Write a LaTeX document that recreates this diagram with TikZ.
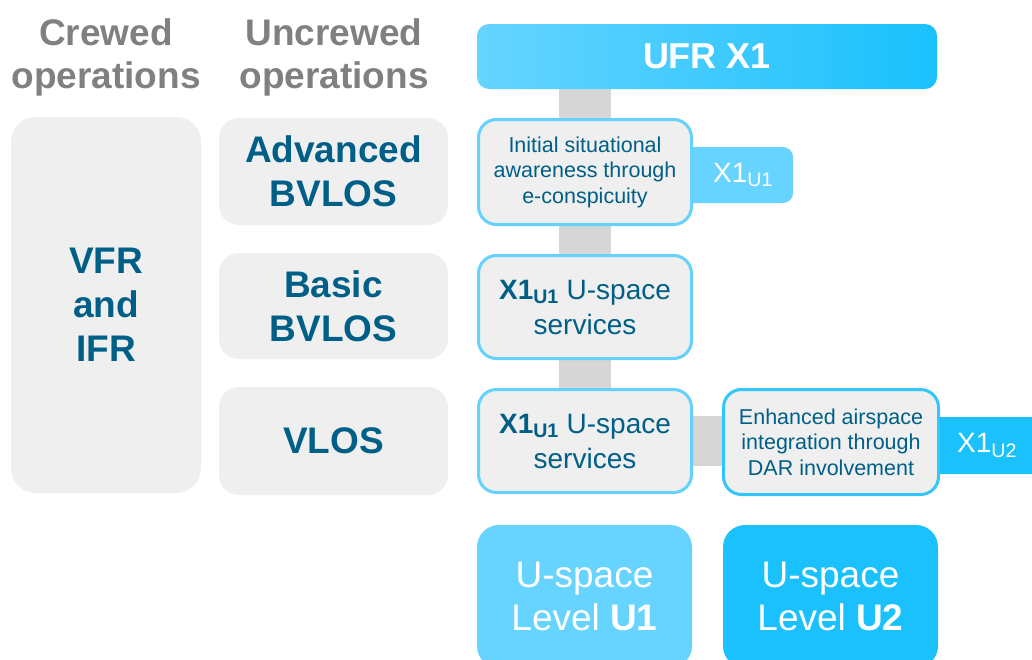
\documentclass[tikz,border=0pt]{standalone}
\usepackage{fontspec}
\setmainfont{Liberation Sans}

\definecolor{navy}{RGB}{0,95,135}
\definecolor{headgrey}{RGB}{128,128,128}
\definecolor{boxgrey}{RGB}{239,239,239}
\definecolor{bargrey}{RGB}{214,214,214}
\definecolor{skyL}{RGB}{102,212,255}
\definecolor{skyD}{RGB}{26,193,252}
\definecolor{rimL}{RGB}{100,210,252}
\definecolor{rimD}{RGB}{52,198,250}

\pgfdeclarelayer{background}
\pgfsetlayers{background,main}

\tikzset{
  base/.style={rectangle, inner sep=0pt, outer sep=0pt, align=center},
  header/.style={base, text=headgrey, font=\bfseries\fontsize{37}{43}\selectfont},
  opbox/.style={base, fill=boxgrey, rounded corners=20pt, text=navy,
    font=\bfseries\fontsize{37}{44}\selectfont},
  svcbox/.style={base, fill=boxgrey, draw=rimL, line width=3pt, rounded corners=18pt,
    text=navy, minimum width=213pt},
  smalltext/.style={font=\fontsize{21.5}{25.5}\selectfont},
  midtext/.style={font=\fontsize{28}{35}\selectfont},
  tag/.style={base, rounded corners=10pt, text=white, font=\fontsize{28}{34}\selectfont},
  levelbox/.style={base, rounded corners=22pt, text=white, minimum width=215pt,
    minimum height=143pt, font=\fontsize{37}{43}\selectfont},
  greybar/.style={draw=bargrey, line width=52pt},
}

\begin{document}
\begin{tikzpicture}[x=1pt, y=-1pt]
  \clip (0,0) rectangle (1032,659);

  % column headings
  \node[header] (crewhead) at (106,57) {Crewed\\operations};
  \node[header] (uncrewhead) at (334,57) {Uncrewed\\operations};

  % operation categories
  \node[opbox, rounded corners=25pt, minimum width=190pt, minimum height=376pt]
    (vfr) at (106,305) {VFR\\and\\IFR};
  \node[opbox, minimum width=229pt, minimum height=107pt] (adv) at (333.5,171.5) {Advanced\\BVLOS};
  \node[opbox, minimum width=229pt, minimum height=106pt] (basic) at (333.5,306) {Basic\\BVLOS};
  \node[opbox, minimum width=229pt, minimum height=108pt] (vlos) at (333.5,441) {VLOS};

  % UFR banner
  \node[base, rounded corners=12pt, minimum width=460pt, minimum height=65pt,
    left color=skyL, right color=skyD, text=white,
    font=\bfseries\fontsize{36}{40}\selectfont] (ufr) at (707,56.5) {UFR X1};

  % tags, partly hidden behind the service boxes
  \node[tag, fill=skyL, minimum width=110pt, minimum height=56pt] (tagone) at (738,175)
    {\hspace*{10pt}X1\textsubscript{U1}};
  \node[tag, fill=skyD, minimum width=125pt, minimum height=57pt] (tagtwo) at (987,445.5)
    {X1\textsubscript{U2}};

  % service boxes
  \node[svcbox, minimum height=105pt, smalltext] (init) at (585,172)
    {Initial situational\\awareness through\\e-conspicuity};
  \node[svcbox, minimum height=103pt, midtext] (svcone) at (585,307)
    {\textbf{X1\textsubscript{U1}} U-space\\services};
  \node[svcbox, minimum height=103pt, midtext] (svctwo) at (585,441)
    {\textbf{X1\textsubscript{U1}} U-space\\services};
  \node[svcbox, draw=rimD, minimum width=215pt, minimum height=105pt, smalltext] (enh) at (831,442)
    {Enhanced airspace\\integration through\\DAR involvement};

  % white page and grey links behind the boxes
  \begin{pgfonlayer}{background}
    \fill[white] (0,0) rectangle (1032,659);
    \draw[greybar] (ufr.south -| svctwo.north) -- (svctwo.north);
    \draw[greybar, line width=50pt] (svctwo.east) -- (svctwo.east -| enh.west);
  \end{pgfonlayer}

  % U-space levels
  \node[levelbox, fill=skyL] (lvone) at (584.5,596.5) {U-space\\Level \textbf{U1}};
  \node[levelbox, fill=skyD] (lvtwo) at (830.5,596.5) {U-space\\Level \textbf{U2}};
\end{tikzpicture}
\end{document}
